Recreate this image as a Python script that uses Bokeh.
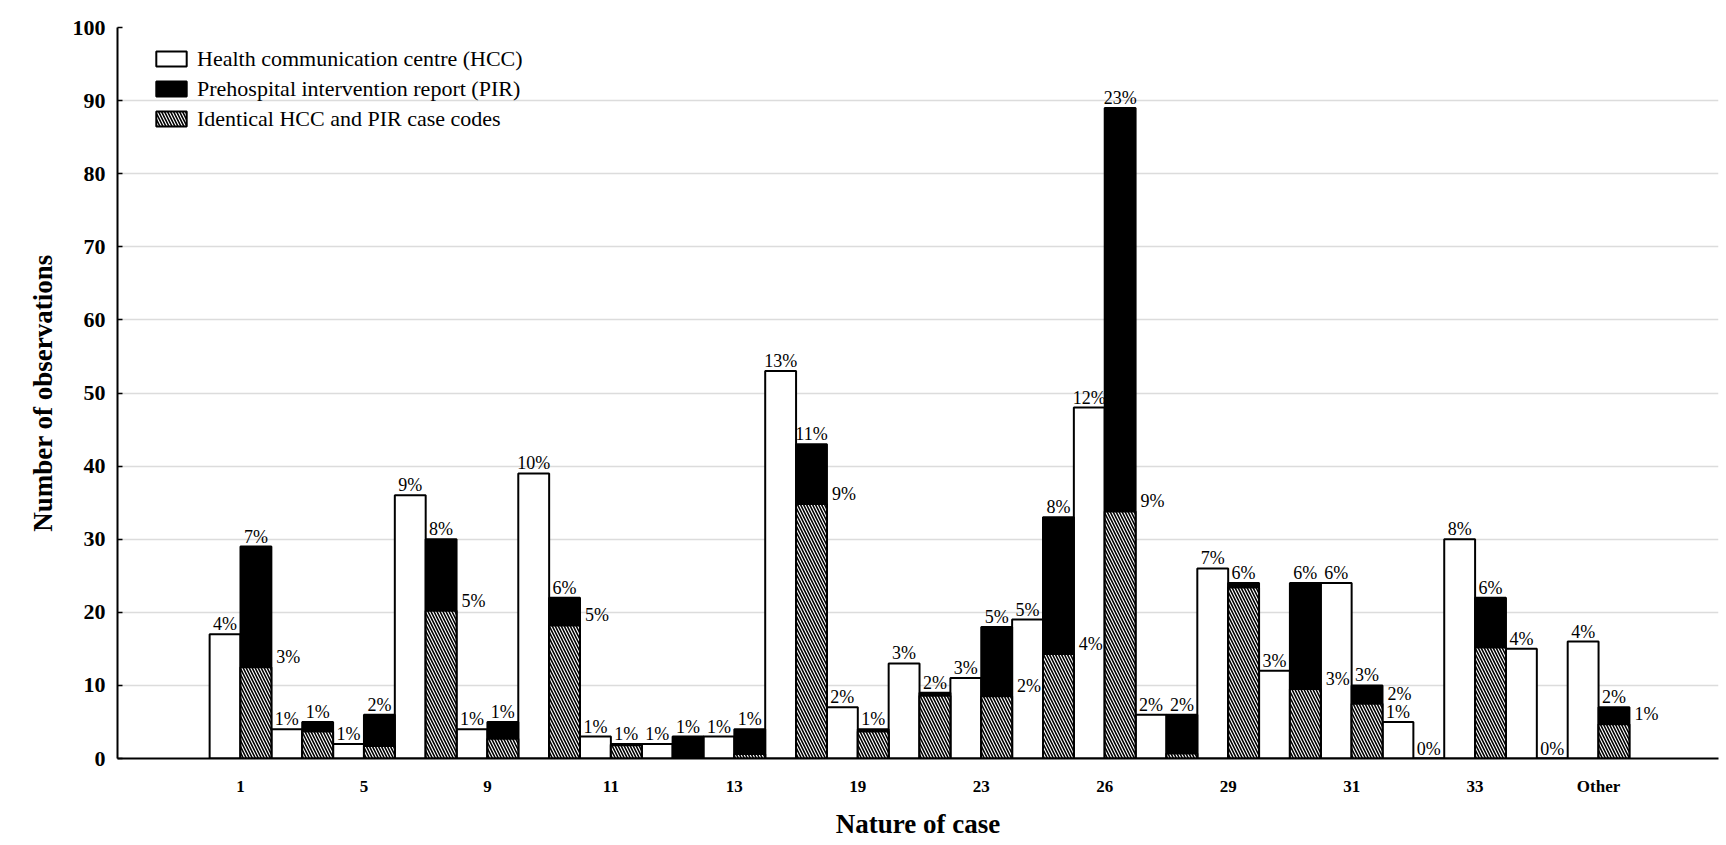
import numpy as np
from bokeh.plotting import figure
from bokeh.models import ColumnDataSource, FixedTicker, Legend, LegendItem, Range1d
from bokeh.core.properties import value
from bokeh.embed import file_html
from bokeh.resources import INLINE

# ---- data ----
case_labels = ["1", "", "5", "", "9", "", "11", "", "13", "", "19", "", "23", "",
               "26", "", "29", "", "31", "", "33", "", "Other"]
hcc = [17, 4, 2, 36, 4, 39, 3, 2, 3, 53, 7, 13, 11, 19, 48, 6, 26, 12, 24, 5, 30, 15, 16]
pir = [29, 5, 6, 30, 5, 22, 2, 3, 4, 43, 4, 9, 18, 33, 89, 6, 24, 24, 10, 0, 22, 0, 7]
identical = [12.5, 3.7, 1.7, 20.2, 2.7, 18.2, 1.8, 0, 0.6, 34.8, 3.7, 8.6, 8.5, 14.3,
             33.8, 0.7, 23.4, 9.5, 7.5, 0, 15.2, 0, 4.7]
hcc_pct = ["4%", "1%", "1%", "9%", "1%", "10%", "1%", "1%", "1%", "13%", "2%", "3%",
           "3%", "5%", "12%", "2%", "7%", "3%", "6%", "1%", "8%", "4%", "4%"]
pir_pct = ["7%", "1%", "2%", "8%", "1%", "6%", "1%", "1%", "1%", "11%", "1%", "2%",
           "5%", "8%", "23%", "2%", "6%", "6%", "3%", "0%", "6%", "0%", "2%"]
identical_pct = ["3%", "", "", "5%", "", "5%", "", "", "", "9%", "", "", "2%", "4%",
                 "9%", "", "", "3%", "2%", "", "", "", "1%"]
legend_labels = ["Health communication centre (HCC)",
                 "Prehospital intervention report (PIR)",
                 "Identical HCC and PIR case codes"]
y_ticks = list(range(0, 101, 10))

x = np.arange(len(case_labels))
src = ColumnDataSource(dict(
    xw=x - 0.25, xb=x + 0.25, xr=x + 0.5,
    hcc=hcc, pir=pir, identical=identical,
    hcc_pct=hcc_pct, pir_pct=pir_pct, identical_pct=identical_pct,
))

FONT_NAME = "Liberation Serif"
FONT = value(FONT_NAME)

p = figure(width=1720, height=844, output_backend="svg", toolbar_location=None,
           x_range=Range1d(-1.9925, 23.943), y_range=Range1d(0, 100),
           min_border_left=117, min_border_right=2, min_border_top=27,
           min_border_bottom=86)
p.outline_line_color = None
p.background_fill_color = "white"
p.xgrid.visible = False
p.ygrid.ticker = FixedTicker(ticks=[t for t in y_ticks if 0 < t < 100])
p.ygrid.grid_line_color = "#dcdcdc"
p.ygrid.grid_line_width = 1.5

r_h = p.vbar(x="xw", top="hcc", width=0.5, bottom=0, source=src,
             fill_color="white", line_color="black", line_width=2)
r_p = p.vbar(x="xb", top="pir", width=0.5, bottom=0, source=src,
             fill_color="black", line_color="black", line_width=2)
r_i = p.vbar(x="xb", top="identical", width=0.5, bottom=0, source=src,
             fill_color="white", line_color="black", line_width=2,
             hatch_pattern="left_diagonal_line", hatch_color="black",
             hatch_scale=6, hatch_weight=1.6)

lbl = dict(source=src, text_font=FONT, text_font_size="18px", text_color="black",
           text_baseline="bottom")
p.text(x="xw", y="hcc", text="hcc_pct", text_align="center", **lbl)
p.text(x="xb", y="pir", text="pir_pct", text_align="center", **lbl)
p.text(x="xr", y="identical", text="identical_pct", text_align="left", x_offset=5, **lbl)

legend = Legend(items=[LegendItem(label=legend_labels[0], renderers=[r_h]),
                       LegendItem(label=legend_labels[1], renderers=[r_p]),
                       LegendItem(label=legend_labels[2], renderers=[r_i])],
                location=(35, 626), orientation="vertical",
                background_fill_alpha=0, border_line_color=None,
                glyph_width=38, glyph_height=19, label_height=27, spacing=3,
                padding=0, margin=0, label_standoff=7,
                label_text_font=FONT_NAME, label_text_font_size="22px",
                label_text_color="black")
p.add_layout(legend)

# x axis
tick_pos = [int(i) for i, l in enumerate(case_labels) if l]
p.xaxis.ticker = FixedTicker(ticks=tick_pos)
p.xaxis.major_label_overrides = {i: case_labels[i] for i in tick_pos}
p.xaxis.axis_label = "Nature of case"
p.xaxis.axis_line_color = "black"
p.xaxis.axis_line_width = 2
p.xaxis.major_tick_line_color = None
p.xaxis.minor_tick_line_color = None
p.xaxis.major_label_standoff = 12
p.xaxis.major_label_text_font = FONT_NAME
p.xaxis.major_label_text_font_size = "17px"
p.xaxis.major_label_text_font_style = "bold"
p.xaxis.major_label_text_color = "black"
p.xaxis.axis_label_standoff = 10
p.xaxis.axis_label_text_font = FONT_NAME
p.xaxis.axis_label_text_font_size = "27px"
p.xaxis.axis_label_text_font_style = "bold"
p.xaxis.axis_label_text_color = "black"

# y axis
p.yaxis.ticker = FixedTicker(ticks=y_ticks)
p.yaxis.axis_label = "Number of observations"
p.yaxis.axis_line_color = "black"
p.yaxis.axis_line_width = 2
p.yaxis.major_tick_in = 5
p.yaxis.major_tick_out = 0
p.yaxis.major_tick_line_color = "black"
p.yaxis.major_tick_line_width = 1.5
p.yaxis.minor_tick_line_color = None
p.yaxis.major_label_standoff = 12
p.yaxis.major_label_text_font = FONT_NAME
p.yaxis.major_label_text_font_size = "22px"
p.yaxis.major_label_text_font_style = "bold"
p.yaxis.major_label_text_color = "black"
p.yaxis.axis_label_standoff = 12
p.yaxis.axis_label_text_font = FONT_NAME
p.yaxis.axis_label_text_font_size = "27px"
p.yaxis.axis_label_text_font_style = "bold"
p.yaxis.axis_label_text_color = "black"

open("out.html", "w").write(file_html(p, INLINE))
